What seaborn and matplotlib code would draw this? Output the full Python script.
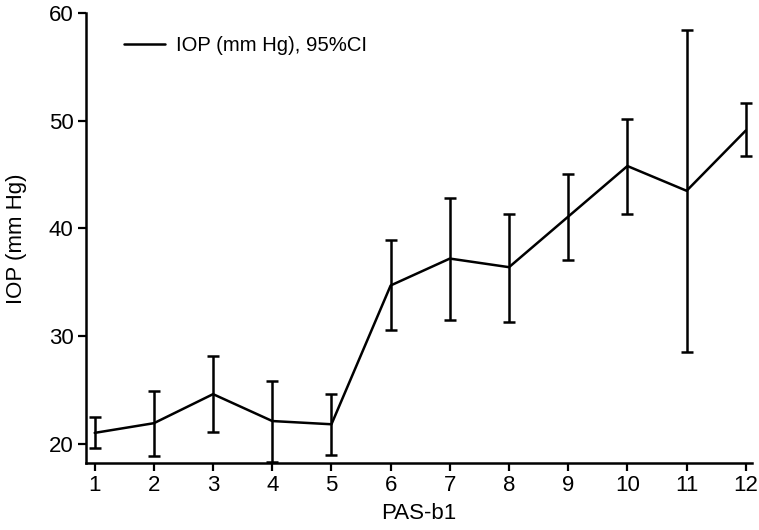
import numpy as np
import pandas as pd
import matplotlib
matplotlib.use('Agg')
import matplotlib.pyplot as plt
import seaborn as sns

# PAS-b1 级别与眼压均值及 95%CI
pas_b1 = [1, 2, 3, 4, 5, 6, 7, 8, 9, 10, 11, 12]
iop_mean = [21.0, 21.9, 24.6, 22.1, 21.8, 34.7, 37.2, 36.4, 41.1, 45.8, 43.5, 49.1]
ci_low = [19.6, 18.85, 21.05, 18.3, 18.9, 30.55, 31.5, 31.35, 37.1, 41.35, 28.5, 46.7]
ci_high = [22.45, 24.85, 28.1, 25.85, 24.65, 38.95, 42.8, 41.3, 45.1, 50.2, 58.45, 51.65]

df = pd.DataFrame({'PAS-b1': pas_b1, 'IOP': iop_mean, 'lo': ci_low, 'hi': ci_high})

sns.set_style('ticks')
plt.rcParams['font.family'] = ['Liberation Sans', 'DejaVu Sans']
plt.rcParams['text.color'] = 'black'
plt.rcParams['axes.labelcolor'] = 'black'
plt.rcParams['xtick.color'] = 'black'
plt.rcParams['ytick.color'] = 'black'

fig = plt.figure(figsize=(7.59, 5.30), dpi=100)
ax = fig.add_axes([0.1133, 0.1258, 0.8771, 0.8492])

sns.lineplot(data=df, x='PAS-b1', y='IOP', color='black', linewidth=1.8,
             label='IOP (mm Hg), 95%CI', ax=ax)
ax.errorbar(df['PAS-b1'], df['IOP'],
            yerr=[df['IOP'] - df['lo'], df['hi'] - df['IOP']],
            fmt='none', ecolor='black', elinewidth=1.8, capsize=4.5, capthick=1.8)

ax.set_xlim(0.853, 12.1)
ax.set_ylim(18.17, 60)
ax.set_xticks(pas_b1)
ax.set_yticks([20, 30, 40, 50, 60])
ax.tick_params(axis='both', labelsize=16, width=1.6, length=5.5, color='black')
ax.tick_params(axis='x', pad=3)
ax.set_xlabel('PAS-b1', fontsize=16, labelpad=5)
ax.set_ylabel('IOP (mm Hg)', fontsize=16, labelpad=16)
for s in ['left', 'bottom']:
    ax.spines[s].set_linewidth(1.8)
    ax.spines[s].set_color('black')
sns.despine(ax=ax)

ax.legend(loc='upper left', bbox_to_anchor=(0.03, 0.99), frameon=False,
          fontsize=14.6, handlelength=2.0, handletextpad=0.55)

fig.savefig('out.png', dpi=100)
